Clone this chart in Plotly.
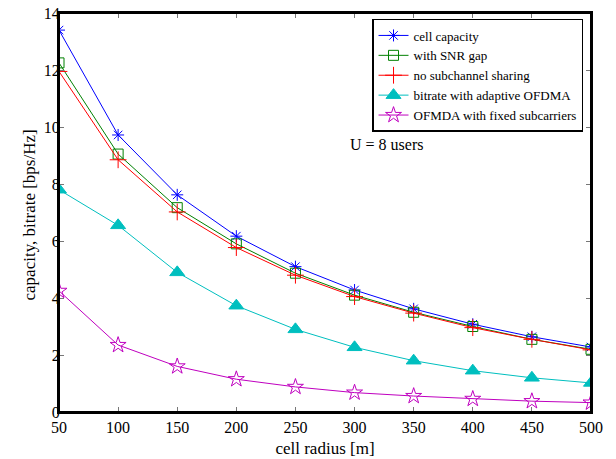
import plotly.graph_objects as go

radius = [50, 100, 150, 200, 250, 300, 350, 400, 450, 500]
cell_capacity = [13.4, 9.72, 7.62, 6.17, 5.1, 4.28, 3.62, 3.08, 2.64, 2.28]
snr_gap = [12.25, 9.05, 7.17, 5.9, 4.87, 4.1, 3.5, 3.0, 2.55, 2.2]
no_sharing = [11.95, 8.85, 7.02, 5.77, 4.8, 4.05, 3.47, 2.96, 2.55, 2.18]
adaptive = [7.8, 6.55, 4.9, 3.73, 2.9, 2.27, 1.8, 1.45, 1.2, 1.02]
fixed = [4.25, 2.35, 1.6, 1.15, 0.88, 0.68, 0.56, 0.46, 0.38, 0.33]
y_ticks = [0, 2, 4, 6, 8, 10, 12, 14]

series = [
    ("cell capacity", cell_capacity, "#0000ff", "asterisk-open", 10),
    ("with SNR gap", snr_gap, "#008000", "square-open", 10),
    ("no subchannel sharing", no_sharing, "#ff0000", "cross-thin-open", 12),
    ("bitrate with adaptive OFDMA", adaptive, "#00bfbf", "triangle-up", 13),
    ("OFMDA with fixed subcarriers", fixed, "#bf00bf", "star-open", 12),
]

fig = go.Figure()
for name, ys, col, sym, sz in series:
    fig.add_trace(go.Scatter(
        x=radius, y=ys, name=name, mode="lines+markers",
        line=dict(color=col, width=1),
        marker=dict(symbol=sym, size=sz, color=col, line=dict(color=col, width=1)),
    ))

fig.add_annotation(x=326.6, y=9.38, text="U = 8 users", showarrow=False,
                   font=dict(family="Liberation Serif", size=16, color="black"))

# y axis title placed like the reference
fig.add_annotation(x=0, y=0.5, xref="paper", yref="paper", xanchor="center", yanchor="middle",
                   xshift=-30, yshift=-3, textangle=-90, showarrow=False,
                   text="capacity, bitrate [bps/Hz]",
                   font=dict(family="Liberation Serif", size=17, color="black"))

# plot frame
fig.add_shape(type="rect", xref="paper", yref="paper", x0=0, y0=0, x1=1, y1=1,
              line=dict(color="black", width=2), layer="above")

fig.update_layout(
    width=616, height=459,
    margin=dict(l=59, r=25, t=13, b=47),
    plot_bgcolor="white", paper_bgcolor="white",
    font=dict(family="Liberation Serif", size=16, color="black"),
    showlegend=True,
    legend=dict(x=0.985, y=0.985, xanchor="right", yanchor="top",
                bordercolor="black", borderwidth=1.5, bgcolor="white",
                font=dict(size=13), tracegroupgap=0, itemwidth=30),
)
fig.update_xaxes(range=[50, 500], tickvals=radius, ticks="inside", ticklen=5,
                 tickcolor="#777", tickwidth=1, automargin=False,
                 showline=True, linecolor="black", linewidth=2, mirror="ticks",
                 showgrid=False, zeroline=False,
                 title=dict(text="cell radius [m]", font=dict(size=17), standoff=7))
fig.update_yaxes(range=[0, 14], tickvals=y_ticks, ticks="inside", ticklen=5,
                 tickcolor="#777", tickwidth=1, ticklabelstandoff=-6, automargin=False,
                 showline=True, linecolor="black", linewidth=2, mirror="ticks",
                 showgrid=False, zeroline=False)

fig.write_html("out.html", config={"displayModeBar": False},
               post_script="document.body.style.margin='0px';")
